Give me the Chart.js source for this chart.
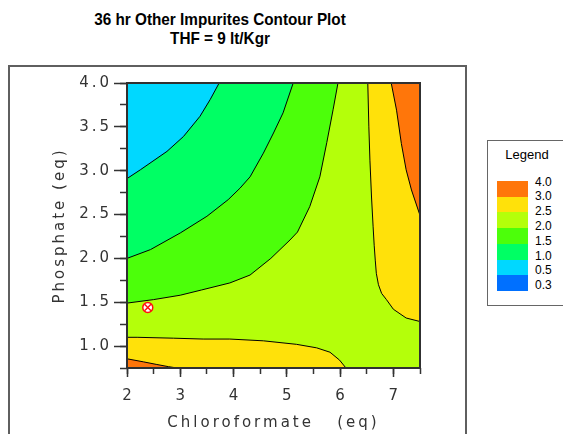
<!DOCTYPE html>
<html>
<head>
<meta charset="utf-8">
<script src="https://cdn.jsdelivr.net/npm/chart.js@4/dist/chart.umd.min.js"></script>
<style>
  html, body { margin: 0; padding: 0; background: #fff; }
  #page { position: relative; width: 563px; height: 434px; overflow: hidden; background: #fff; }
  #frame { position: absolute; left: 8px; top: 65px; width: 459px; height: 400px;
           box-sizing: border-box; border: 2px solid #5f5f5f; }
  #title { position: absolute; left: 0; top: 10px; width: 440px; text-align: center;
           font: bold 17px 'Liberation Sans', Arial, sans-serif; line-height: 19px; color: #000;
           transform: scaleX(0.9); transform-origin: 220px 0; }
  #plot { position: absolute; left: 0; top: 0; }
  #legendBox { position: absolute; left: 487px; top: 140px; width: 90px; height: 166px;
               box-sizing: border-box; border: 1px solid #666; background: #fff; }
  #legendTitle { position: absolute; left: 487px; top: 147px; width: 80px; text-align: center;
                 font: 13px 'Liberation Sans', Arial, sans-serif; line-height: 15px; color: #000; }
  #swatches { position: absolute; left: 497px; top: 181px; width: 31px; height: 110px;
              display: flex; flex-direction: column; }
  #swatches div { flex: 1; }
  #levels { position: absolute; left: 535px; top: 174.7px;
            font: 12px 'Liberation Sans', Arial, sans-serif; line-height: 14.76px; color: #000; }
</style>
</head>
<body>
<div id="page">
  <div id="frame"></div>
  <div id="title">36 hr Other Impurites Contour Plot<br>THF = 9 lt/Kgr</div>
  <canvas id="plot" width="563" height="434"></canvas>
  <div id="legendBox"></div>
  <div id="legendTitle">Legend</div>
  <div id="swatches"></div>
  <div id="levels"></div>
</div>
<script>
// Axis ranges and labels
const xMin = 2, xMax = 7.5;
const yMin = 0.75, yMax = 4.0;
const xTitle = 'Chloroformate   (eq)';
const yTitle = 'Phosphate (eq)';

// Contour levels (legend, top to bottom) and the band colours between them
const levelLabels = ['4.0', '3.0', '2.5', '2.0', '1.5', '1.0', '0.5', '0.3'];
const bandColors = ['#ff760a', '#ffe10a', '#b4ff0a', '#4cff0a', '#00ff64', '#00d8ff', '#0070ff'];

// Contour lines (Chloroformate eq, Phosphate eq)
const level10X = [2.00, 2.25, 2.75, 3.06, 3.37, 3.56, 3.73];
const level10Y = [2.91, 3.01, 3.22, 3.39, 3.62, 3.81, 4.00];

const level15X = [2.00, 2.44, 3.00, 3.50, 3.90, 4.12, 4.31, 4.56, 4.75, 4.93, 5.12];
const level15Y = [2.00, 2.10, 2.29, 2.48, 2.67, 2.80, 2.93, 3.20, 3.43, 3.66, 4.00];

const level20X = [2.00, 2.50, 3.00, 3.40, 3.93, 4.31, 4.70, 5.06, 5.20, 5.43, 5.62, 5.75, 5.87, 5.96];
const level20Y = [1.49, 1.53, 1.58, 1.64, 1.72, 1.81, 2.00, 2.21, 2.30, 2.59, 2.93, 3.32, 3.70, 4.00];

const level25RightX = [6.52, 6.54, 6.56, 6.59, 6.62, 6.64, 6.66, 6.68, 6.72, 6.78, 6.87, 7.00, 7.24, 7.50];
const level25RightY = [4.00, 3.50, 3.12, 2.70, 2.36, 2.15, 1.98, 1.83, 1.70, 1.60, 1.53, 1.42, 1.32, 1.28];

const level30RightX = [6.96, 7.06, 7.15, 7.24, 7.34, 7.50];
const level30RightY = [4.00, 3.69, 3.31, 3.01, 2.78, 2.49];

const level25LowX = [2.00, 2.19, 2.87, 3.43, 3.93, 4.56, 5.18, 5.56, 5.81, 5.99, 6.11];
const level25LowY = [1.10, 1.10, 1.09, 1.08, 1.08, 1.06, 1.02, 0.98, 0.93, 0.84, 0.75];

const level30LowX = [2.00, 2.31, 2.56, 2.78, 2.94];
const level30LowY = [0.855, 0.82, 0.79, 0.765, 0.75];

// Current operating point
const pointX = [2.39];
const pointY = [1.44];

// ---- legend ----
const sw = document.getElementById('swatches');
bandColors.forEach(c => { const d = document.createElement('div'); d.style.background = c; sw.appendChild(d); });
document.getElementById('levels').innerHTML = levelLabels.join('<br>');

// ---- helpers ----
const pts = (xs, ys) => xs.map((x, i) => ({ x, y: ys[i] }));
const withCorner = (xs, ys, cx, cy) => pts(xs, ys).concat([{ x: cx, y: cy }]);
const band = (data, color, order) => ({
  data, order, fill: 'shape', backgroundColor: color, borderWidth: 0,
  pointRadius: 0, tension: 0
});
const contour = (xs, ys) => ({
  data: pts(xs, ys), order: 5, fill: false, borderColor: '#000', borderWidth: 1,
  pointRadius: 0, tension: 0
});

const plotRect = [
  { x: xMin, y: yMin }, { x: xMax, y: yMin }, { x: xMax, y: yMax }, { x: xMin, y: yMax }
];

const datasets = [
  band(plotRect, bandColors[2], 20),
  band(withCorner(level20X, level20Y, xMin, yMax), bandColors[3], 19),
  band(withCorner(level15X, level15Y, xMin, yMax), bandColors[4], 18),
  band(withCorner(level10X, level10Y, xMin, yMax), bandColors[5], 17),
  band(withCorner(level25RightX, level25RightY, xMax, yMax), bandColors[1], 16),
  band(withCorner(level30RightX, level30RightY, xMax, yMax), bandColors[0], 15),
  band(withCorner(level25LowX, level25LowY, xMin, yMin), bandColors[1], 14),
  band(withCorner(level30LowX, level30LowY, xMin, yMin), bandColors[0], 13),
  contour(level10X, level10Y),
  contour(level15X, level15Y),
  contour(level20X, level20Y),
  contour(level25RightX, level25RightY),
  contour(level30RightX, level30RightY),
  contour(level25LowX, level25LowY),
  contour(level30LowX, level30LowY),
  { // plot frame
    data: plotRect.concat([plotRect[0]]), order: 3, fill: false, borderColor: '#303030',
    borderWidth: 2, pointRadius: 0, tension: 0, clip: false
  },
  { // operating point: circle
    data: pts(pointX, pointY), order: 2, showLine: false, pointStyle: 'circle',
    pointRadius: 5, pointBorderColor: '#ff1010', pointBackgroundColor: '#ffffff',
    pointBorderWidth: 1.5, clip: false
  },
  { // operating point: cross
    data: pts(pointX, pointY), order: 1, showLine: false, pointStyle: 'crossRot',
    pointRadius: 4.5, pointBorderColor: '#ff1010', pointBorderWidth: 1.5, clip: false
  }
];

const axisFont = { family: "'DejaVu Sans', sans-serif", size: 15, weight: 'normal' };
const axisColor = '#333';

const textSpacing = {
  id: 'textSpacing',
  beforeDraw(chart) { chart.ctx.letterSpacing = '3px'; }
};

new Chart(document.getElementById('plot'), {
  type: 'line',
  data: { datasets },
  plugins: [textSpacing],
  options: {
    responsive: false,
    animation: false,
    events: [],
    layout: { padding: { left: 0, right: 143, top: 83, bottom: 0 } },
    plugins: { legend: { display: false }, tooltip: { enabled: false }, title: { display: false } },
    scales: {
      x: {
        type: 'linear', position: 'bottom', min: xMin, max: xMax, weight: 1,
        ticks: { stepSize: 1, includeBounds: false, autoSkip: false, maxRotation: 0,
                 padding: 10, labelOffset: 1.5, color: axisColor, font: axisFont,
                 callback: v => String(v) },
        grid: { drawOnChartArea: false, drawTicks: true, tickLength: 9, tickColor: '#333', tickWidth: 1.5 },
        border: { display: false },
        title: { display: true, text: xTitle, color: axisColor, font: axisFont,
                 padding: { top: 0, bottom: 2 } },
        afterFit: s => { s.height = 66; }
      },
      xMinor: {
        type: 'linear', position: 'bottom', min: xMin, max: xMax, weight: 0,
        ticks: { stepSize: 0.5, includeBounds: false, autoSkip: false, display: false },
        grid: { drawOnChartArea: false, drawTicks: true, tickLength: 6, tickColor: '#333', tickWidth: 1.5 },
        border: { display: false },
        afterFit: s => { s.height = 0; }
      },
      y: {
        type: 'linear', position: 'left', min: yMin, max: yMax, weight: 1,
        ticks: { stepSize: 0.5, includeBounds: false, autoSkip: false,
                 padding: 2, color: axisColor, font: axisFont,
                 callback: v => v.toFixed(1) },
        grid: { drawOnChartArea: false, drawTicks: true, tickLength: 13, tickColor: '#333', tickWidth: 1.5 },
        border: { display: false },
        title: { display: true, text: yTitle, color: axisColor, font: axisFont,
                 padding: { top: 51, bottom: 0 } },
        afterFit: s => { s.width = 127; }
      },
      yMinor: {
        type: 'linear', position: 'left', min: yMin, max: yMax, weight: 0,
        ticks: { stepSize: 0.25, includeBounds: false, autoSkip: false, display: false },
        grid: { drawOnChartArea: false, drawTicks: true, tickLength: 7, tickColor: '#333', tickWidth: 1.5 },
        border: { display: false },
        afterFit: s => { s.width = 0; }
      }
    }
  }
});
</script>
</body>
</html>
